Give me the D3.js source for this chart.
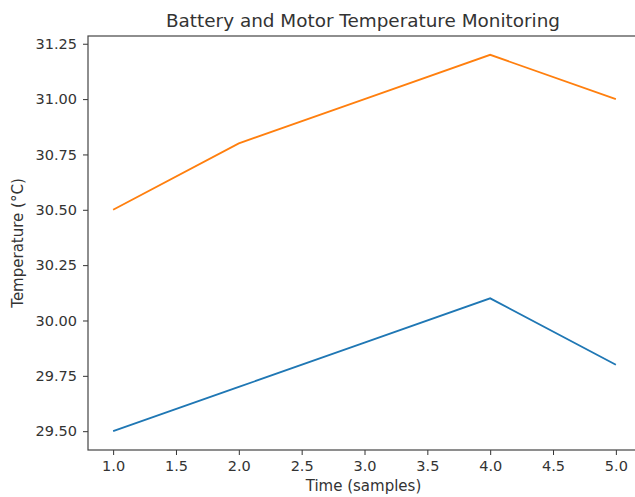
<!DOCTYPE html>
<html><head><meta charset="utf-8">
<script src="https://cdn.jsdelivr.net/npm/d3@7"></script>
<style>body{margin:0;background:#fff;} svg{display:block;font-family:"DejaVu Sans",sans-serif;}</style>
</head><body>
<svg id="c" width="635" height="497"></svg>
<script>
const samples = [1, 2, 3, 4, 5];
const batteryTemp = [29.5, 29.7, 29.9, 30.1, 29.8];
const motorTemp = [30.5, 30.8, 31.0, 31.2, 31.0];
const xTicks = [1.0, 1.5, 2.0, 2.5, 3.0, 3.5, 4.0, 4.5, 5.0];
const yTicks = [29.50, 29.75, 30.00, 30.25, 30.50, 30.75, 31.00, 31.25];
const seriesColors = ["#1f77b4", "#ff7f0e"];

const L = 88, R = 641, T = 36, B = 450;
const svg = d3.select("#c");
const x = d3.scaleLinear().domain([0.8, 5.2]).range([L, R]);
const y = d3.scaleLinear().domain([29.415, 31.285]).range([B, T]);

const fs = 14.5;
const xAxis = svg.append("g").attr("transform", `translate(0,${B})`)
  .call(d3.axisBottom(x).tickValues(xTicks).tickFormat(d3.format(".1f")).tickSizeOuter(0).tickSize(5).tickPadding(6));
const yAxis = svg.append("g").attr("transform", `translate(${L},0)`)
  .call(d3.axisLeft(y).tickValues(yTicks).tickFormat(d3.format(".2f")).tickSizeOuter(0).tickSize(5).tickPadding(6));
[xAxis, yAxis].forEach(g => {
  g.select(".domain").remove();
  g.selectAll("text").attr("font-size", fs).attr("font-family", "DejaVu Sans").attr("fill", "#333");
  g.selectAll("line").attr("stroke", "#333").attr("stroke-width", 1);
});

// spines
svg.append("rect").attr("x", L).attr("y", T).attr("width", R - L).attr("height", B - T)
  .attr("fill", "none").attr("stroke", "#444").attr("stroke-width", 1.2);

const line = d3.line().x((d, i) => x(samples[i])).y(d => y(d));
[batteryTemp, motorTemp].forEach((s, k) => {
  svg.append("path").datum(s).attr("d", line).attr("fill", "none")
    .attr("stroke", seriesColors[k]).attr("stroke-width", 1.8);
});

svg.append("text").attr("x", 363).attr("y", 27).attr("text-anchor", "middle")
  .attr("font-size", 18.4).attr("fill", "#333").text("Battery and Motor Temperature Monitoring");
svg.append("text").attr("x", 363.5).attr("y", 491).attr("text-anchor", "middle")
  .attr("font-size", 15).attr("fill", "#333").text("Time (samples)");
svg.append("text").attr("transform", `translate(23,${(T + B) / 2}) rotate(-90)`).attr("text-anchor", "middle")
  .attr("font-size", 15).attr("fill", "#333").text("Temperature (°C)");
</script>
</body></html>
